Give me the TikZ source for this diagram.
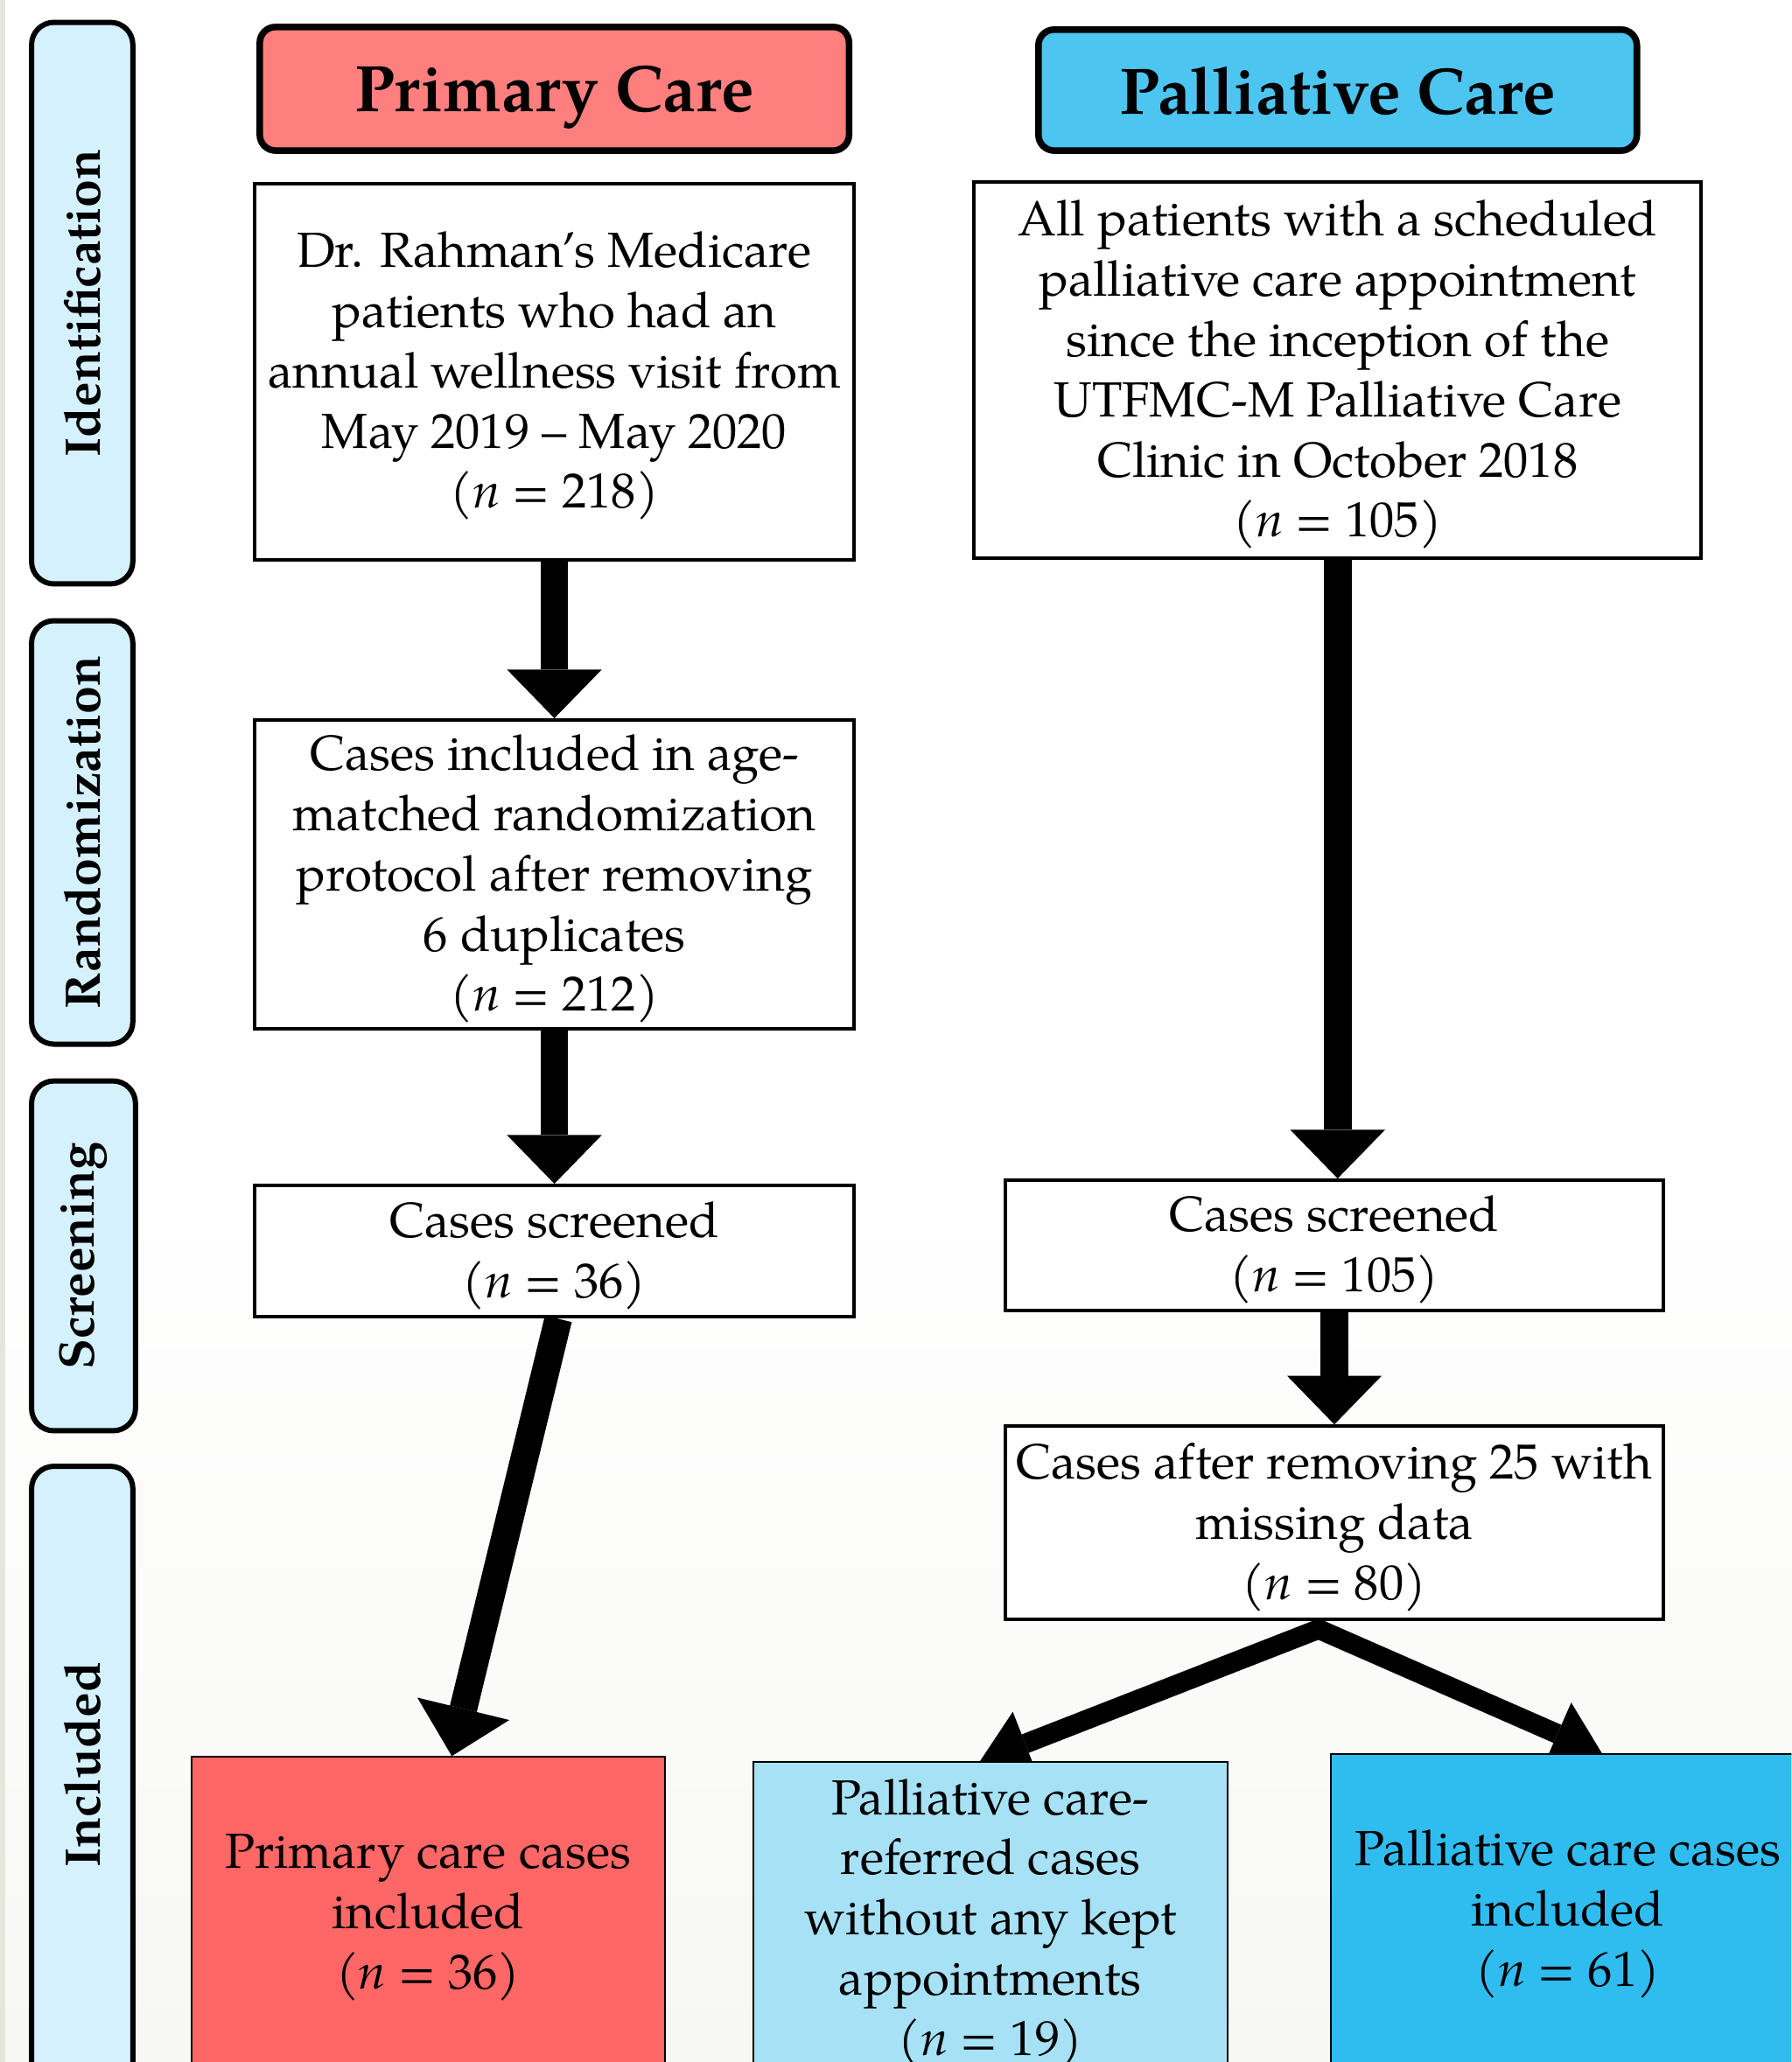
\documentclass[tikz,border=0pt]{standalone}
\usepackage{fontspec}
\setmainfont{texgyrepagella}[Extension=.otf,UprightFont=*-regular,BoldFont=*-bold,ItalicFont=*-italic,BoldItalicFont=*-bolditalic]
\usetikzlibrary{arrows.meta}
\definecolor{stagefill}{HTML}{D4F1FD}
\definecolor{hdrred}{HTML}{FF7F7F}
\definecolor{hdrblue}{HTML}{4CC5F0}
\definecolor{finred}{HTML}{FF6666}
\definecolor{finlight}{HTML}{A7E1F5}
\definecolor{finblue}{HTML}{2FBDF0}
\definecolor{stripcol}{HTML}{E6E6DA}
\definecolor{bgbottom}{HTML}{F7F7F4}
\pgfdeclarelayer{back}
\pgfdeclarelayer{arrowlayer}
\pgfsetlayers{back,arrowlayer,main}
\tikzset{
  body/.style={font={\fontsize{37.5}{45.8}\selectfont}, align=center, inner sep=0pt, text depth=2.5pt},
  box/.style={body, draw=black, line width=2.7pt, fill=white},
  header/.style={draw=black, line width=5pt, rounded corners=12pt, inner sep=0pt, text depth=0pt,
    font={\fontsize{50}{60}\selectfont\bfseries}},
  stagebox/.style={draw=black, line width=4pt, rounded corners=17pt, fill=stagefill, inner sep=0pt},
  stagetext/.style={rotate=90, inner sep=0pt, font={\fontsize{38}{45}\selectfont\bfseries}},
  final/.style={body, draw=black, line width=1.3pt},
  bigarrow/.style={line width=21pt, -{Triangle[width=72pt,length=37pt,line width=0pt]}},
  splitarrow/.style={line width=15pt, line join=miter,
    {Triangle[width=52pt,length=37pt,line width=0pt]}-{Triangle[width=52pt,length=37pt,line width=0pt]}},
}
\begin{document}
\begin{tikzpicture}[x=1pt,y=-1pt]
\clip (0,0) rectangle (1362,1568);
\begin{pgfonlayer}{back}
  \fill[white] (0,0) rectangle (1362,1568);
  \fill[top color=white, bottom color=bgbottom] (0,900) rectangle (1362,1568);
  \fill[stripcol] (0,0) rectangle (4,1568);
\end{pgfonlayer}

% stage labels
\node[stagebox, rotate=90, minimum width=427pt, minimum height=77pt] (s1) at (62.5,230.5) {};
\node[stagetext] (s1t) at (62.5,230.5) {Identification};
\node[stagebox, rotate=90, minimum width=322pt, minimum height=77pt] (s2) at (62.5,633) {};
\node[stagetext] (s2t) at (62.5,633) {Randomization};
\node[stagebox, rotate=90, minimum width=266pt, minimum height=79pt] (s3) at (63.5,955) {};
\node[stagetext] (s3t) at (63.5,955) {Screening};
\node[stagebox, rotate=90, minimum width=560pt, minimum height=77pt] (s4) at (62.5,1395) {};
\node[stagetext] (s4t) at (62.5,1342) {Included};

% headers
\node[header, fill=hdrred, minimum width=448pt, minimum height=94pt] (hp) at (421.5,67.5) {Primary Care};
\node[header, fill=hdrblue, minimum width=455pt, minimum height=92pt] (hq) at (1017,68.5) {Palliative Care};

% left column
\node[box, minimum width=456pt, minimum height=286pt] (A1) at (421.5,282.5)
  {Dr. Rahman’s Medicare\\patients who had an\\annual wellness visit from\\May 2019 – May 2020\\(\textit{n}~=~218)};
\node[box, minimum width=456pt, minimum height=235pt] (A2) at (421.5,665)
  {Cases included in age-\\matched randomization\\protocol after removing\\6 duplicates\\(\textit{n}~=~212)};
\node[box, minimum width=456pt, minimum height=100pt] (A3) at (421.5,951.5)
  {Cases screened\\(\textit{n}~=~36)};
\node[final, fill=finred, minimum width=360pt, minimum height=238pt] (A4) at (325.5,1455)
  {Primary care cases\\included\\(\textit{n}~=~36)};

% right column
\node[box, minimum width=553pt, minimum height=286pt] (P1) at (1017,281.5)
  {All patients with a scheduled\\palliative care appointment\\since the inception of the\\UTFMC-M Palliative Care\\Clinic in October 2018\\(\textit{n}~=~105)};
\node[box, minimum width=500pt, minimum height=99pt] (P2) at (1014.5,947)
  {Cases screened\\(\textit{n}~=~105)};
\node[box, minimum width=500pt, minimum height=147pt] (P3) at (1014.5,1158)
  {Cases after removing 25 with\\missing data\\(\textit{n}~=~80)};
\node[final, fill=finlight, minimum width=361pt, minimum height=238pt] (P4) at (753,1459)
  {Palliative care-\\referred cases\\without any kept\\appointments\\(\textit{n}~=~19)};
\node[final, fill=finblue, minimum width=360pt, minimum height=236pt] (P5) at (1192,1452)
  {Palliative care cases\\included\\(\textit{n}~=~61)};

% arrows
\begin{pgfonlayer}{arrowlayer}
  \draw[bigarrow] (A1.south) -- (A2.north);
  \draw[bigarrow] (A2.south) -- (A3.north);
  \draw[bigarrow] (P1.south) -- (P1.south |- P2.north);
  \draw[bigarrow] (P2.south) -- (P3.north);
  \draw[bigarrow] ([xshift=3pt]A3.south) -- ([xshift=18pt]A4.north);
  \coordinate (J) at ([xshift=-12pt,yshift=-6pt]P3.south);
  \draw[splitarrow] ([xshift=-8pt]P4.north) -- (J) -- ([xshift=26pt]P5.north);
\end{pgfonlayer}
\end{tikzpicture}
\end{document}
